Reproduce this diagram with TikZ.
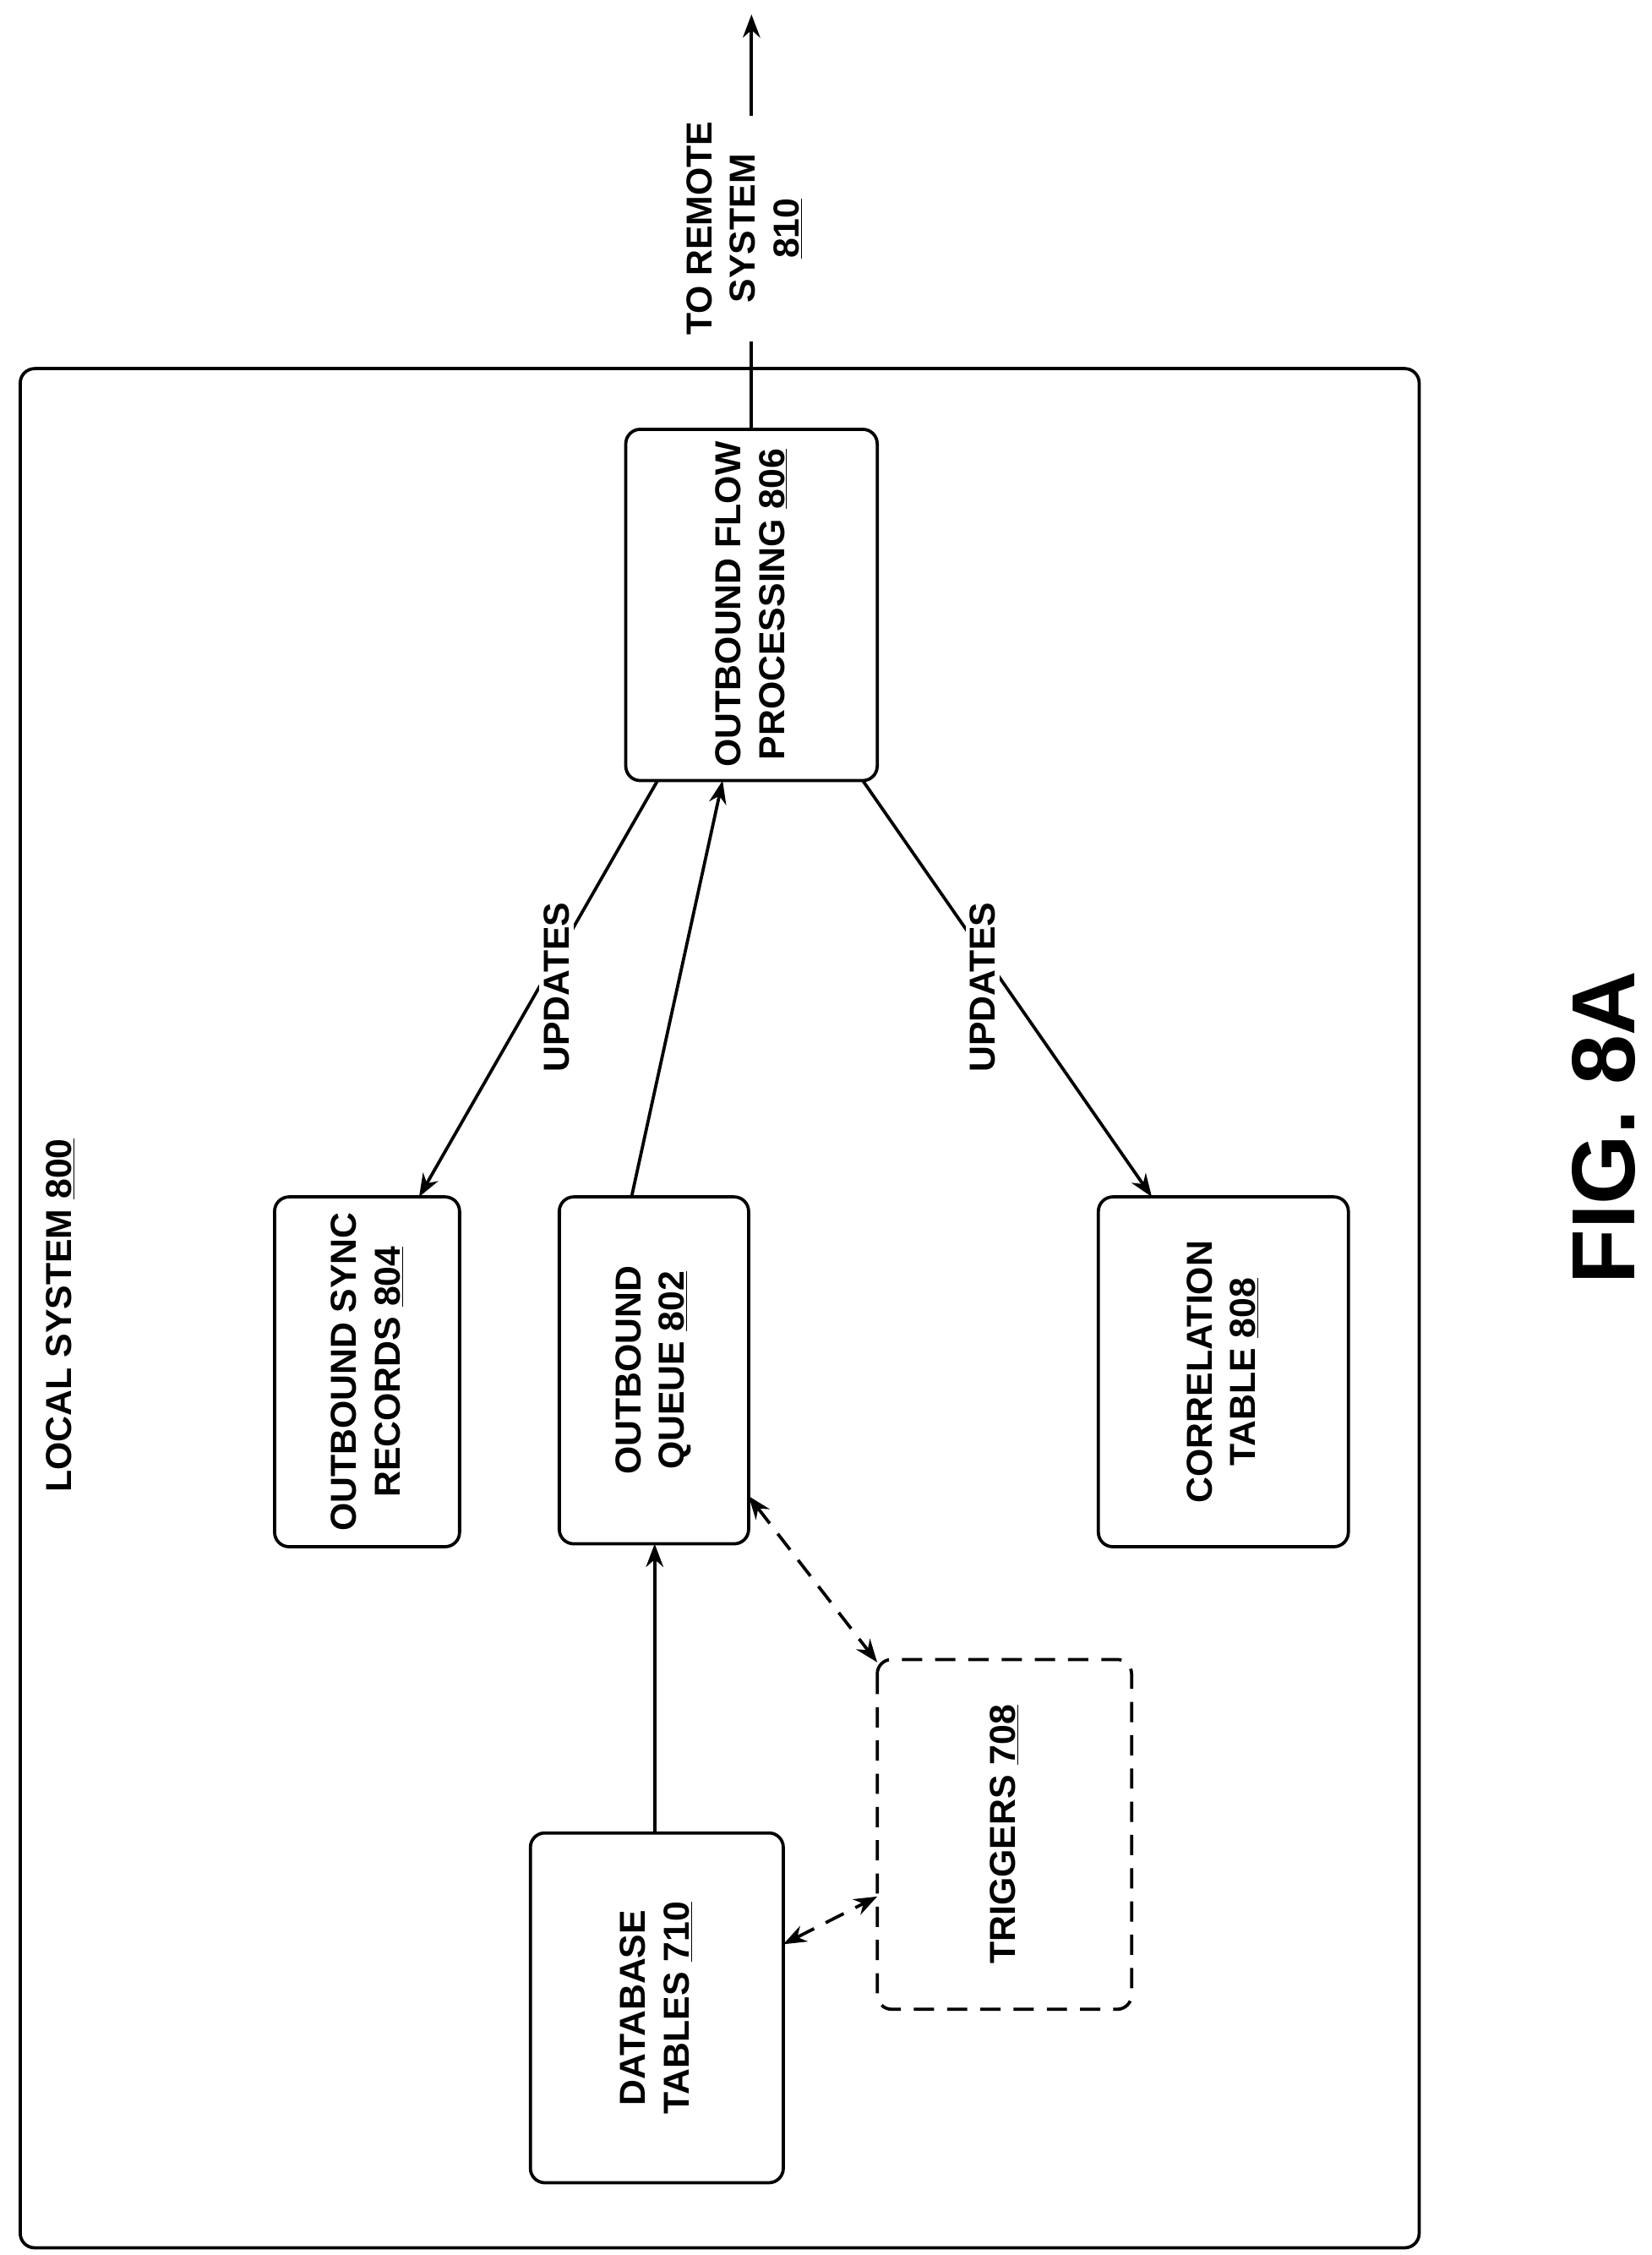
\documentclass[tikz,border=0pt]{standalone}
\usepackage{fontspec}
\setmainfont{Liberation Sans}
\usetikzlibrary{arrows.meta}
\begin{document}
\begin{tikzpicture}[x=1pt,y=-1pt,
  box/.style={draw,line width=2.2pt,rounded corners=10pt},
  lbl/.style={font=\fontsize{25}{30}\selectfont\bfseries,rotate=90,align=center},
  arr/.style={line width=2.2pt,-{Stealth[length=16pt,width=12pt]}},
  darr/.style={line width=2.2pt,dash pattern=on 14pt off 9pt,{Stealth[length=16pt,width=12pt]}-{Stealth[length=16pt,width=12pt]}}]
\useasboundingbox (0,0) rectangle (1143,1560);
\draw[box] (14,255) rectangle (982,1555);
\node[lbl,anchor=center] (ls) at (42,910) {LOCAL SYSTEM \underline{800}};
\draw[box] (433,297) rectangle (607,540); \node[lbl] (ofp) at (520,418) {OUTBOUND FLOW\\PROCESSING \underline{806}};
\coordinate (ofpT) at (520,297);
\draw[box] (190,828) rectangle (318,1070); \node[lbl] (osr) at (254,949) {OUTBOUND SYNC\\RECORDS \underline{804}};
\draw[box] (387,828) rectangle (518,1068); \node[lbl] (oq) at (452,948) {OUTBOUND\\QUEUE \underline{802}};
\draw[box] (760,828) rectangle (933,1070); \node[lbl] (ct) at (846,949) {CORRELATION\\TABLE \underline{808}};
\draw[box] (367,1268) rectangle (542,1510); \node[lbl] (db) at (454,1389) {DATABASE\\TABLES \underline{710}};
\draw[box,dash pattern=on 14pt off 9pt] (607,1148) rectangle (783,1390); \node[lbl] (tr) at (695,1269) {TRIGGERS \underline{708}};
\coordinate (top) at (520,10);
\draw[arr] (ofpT) -- (top);
\node[lbl,fill=white,inner sep=4pt] (rs) at (515,158) {TO REMOTE\\SYSTEM\\\underline{810}};
\coordinate (a1) at (455,540); \coordinate (b1) at (290,828);
\draw[arr] (a1) -- (b1);
\node[lbl,fill=white,inner sep=3pt] (u1) at (385,683) {UPDATES};
\coordinate (a2) at (437,828); \coordinate (b2) at (500,540);
\draw[arr] (a2) -- (b2);
\coordinate (a3) at (597,540); \coordinate (b3) at (797,828);
\draw[arr] (a3) -- (b3);
\node[lbl,fill=white,inner sep=3pt] (u2) at (680,683) {UPDATES};
\coordinate (a4) at (453,1268); \coordinate (b4) at (453,1068);
\draw[arr] (a4) -- (b4);
\coordinate (a5) at (518,1035); \coordinate (b5) at (607,1150);
\draw[darr] (a5) -- (b5);
\coordinate (a6) at (542,1345); \coordinate (b6) at (607,1312);
\draw[darr] (a6) -- (b6);
\node[font=\fontsize{62}{70}\selectfont\bfseries,rotate=90] (fig) at (1110,780) {FIG. 8A};
\end{tikzpicture}
\end{document}
